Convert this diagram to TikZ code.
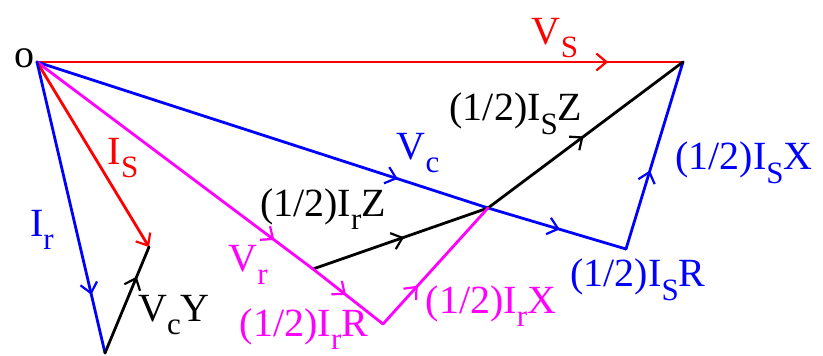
\documentclass[tikz,border=0pt]{standalone}
\usepackage{fontspec}
\setmainfont{Liberation Serif}
\usetikzlibrary{arrows.meta,decorations.markings}
\definecolor{vred}{RGB}{255,0,0}
\definecolor{vblue}{RGB}{0,0,255}
\definecolor{vmag}{RGB}{255,0,255}
\newcommand{\lsub}[1]{\raisebox{-0.34em}{\fontsize{31}{31}\selectfont #1}}
\tikzset{
  phasor/.style={line width=2.8pt, line cap=round, line join=round},
  midarrow/.style={postaction={decorate}, decoration={markings, mark=at position #1 with {\arrow[line width=2.2pt]{Straight Barb[length=10pt,width=17pt]}}}},
  endarrow/.style={-{Straight Barb[length=10pt,width=17pt,line width=2.2pt]}},
  lbl/.style={inner sep=0pt, font=\fontsize{40}{41}\selectfont},
}
\begin{document}
\begin{tikzpicture}[x=1pt,y=-1pt]
\useasboundingbox (0,0) rectangle (823,356);
\coordinate (O) at (37,62);
\coordinate (T) at (683,62);
\coordinate (M) at (488,208);
\coordinate (C) at (626,249);
\coordinate (P) at (313,269);
\coordinate (Q) at (383,324);
\coordinate (S) at (149,247);
\coordinate (R) at (105,353);
% phasors
\draw[phasor, vred, midarrow=0.884] (O) -- (T);
\draw[phasor, vblue, midarrow=0.80] (O) -- (M);
\draw[phasor, vblue, midarrow=0.52] (M) -- (C);
\draw[phasor, vblue, midarrow=0.42] (C) -- (T);
\draw[phasor, black, midarrow=0.49] (M) -- (T);
\draw[phasor, black, midarrow=0.52] (P) -- (M);
\draw[phasor, vmag, midarrow=0.86] (O) -- (P);
\draw[phasor, vmag, midarrow=0.47] (P) -- (Q);
\draw[phasor, vmag, midarrow=0.33] (Q) -- (M);
\draw[phasor, vred, endarrow] (O) -- (S);
\draw[phasor, vblue, midarrow=0.80] (O) -- (R);
\draw[phasor, black, midarrow=0.72] (R) -- (S);
% labels
\node[lbl, black] (lo) at (25,58) {o};
\node[lbl, vred] (lvs) at (555,38) {V\lsub{S}};
\node[lbl, vred] (lis) at (123,158) {I\lsub{S}};
\node[lbl, vblue] (lir) at (42,230) {I\lsub{r}};
\node[lbl, black] (lvcy) at (174,315) {V\lsub{c}Y};
\node[lbl, vmag] (lvr) at (248,265) {V\lsub{r}};
\node[lbl, vmag] (lirr) at (304,329) {(1/2)I\lsub{r}R};
\node[lbl, black] (lirz) at (323,209) {(1/2)I\lsub{r}Z};
\node[lbl, vmag] (lirx) at (491,306) {(1/2)I\lsub{r}X};
\node[lbl, vblue] (lisr) at (638,280) {(1/2)I\lsub{S}R};
\node[lbl, vblue] (lisx) at (744,163) {(1/2)I\lsub{S}X};
\node[lbl, black] (lisz) at (516,114) {(1/2)I\lsub{S}Z};
\node[lbl, vblue] (lvc) at (418,153) {V\lsub{c}};
\end{tikzpicture}
\end{document}
